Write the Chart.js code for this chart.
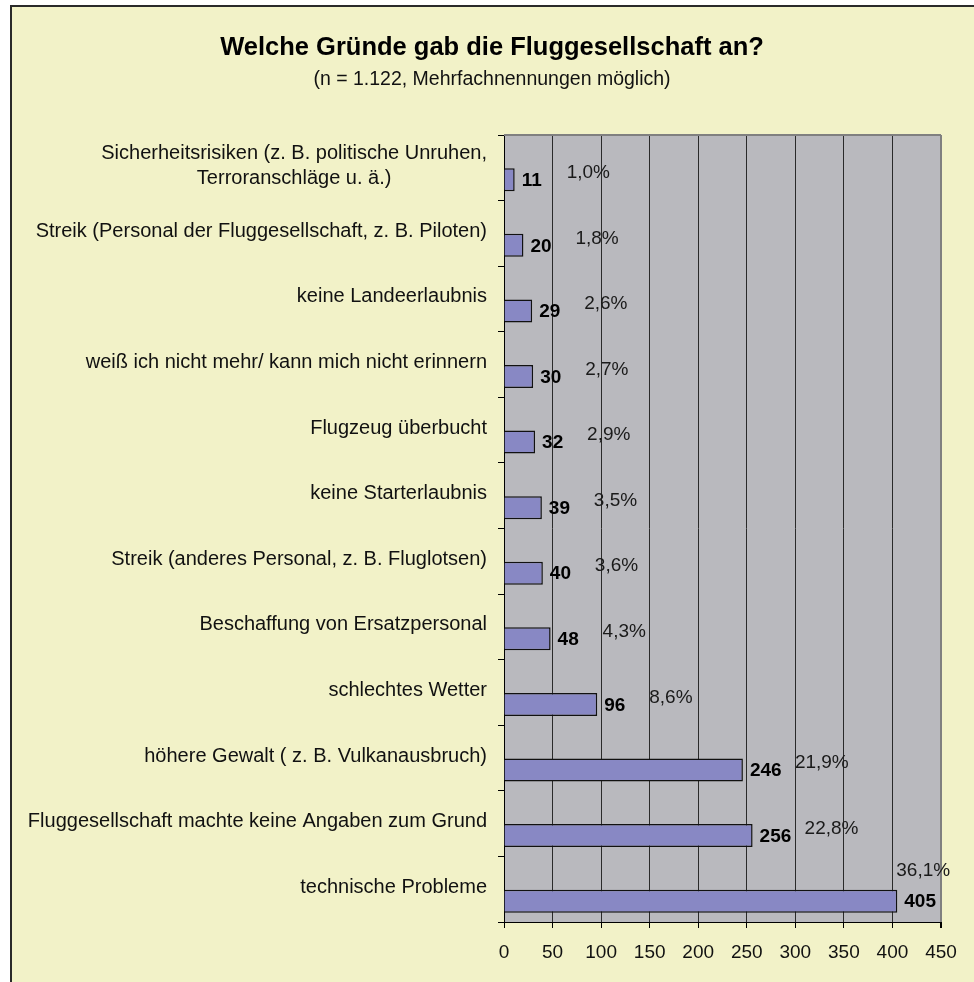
<!DOCTYPE html>
<html>
<head>
<meta charset="utf-8">
<script src="https://cdn.jsdelivr.net/npm/chart.js@4.4.0/dist/chart.umd.min.js"></script>
<style>
  html, body { margin: 0; padding: 0; background: #fff; }
  canvas { display: block; }
</style>
</head>
<body>
<canvas id="chart" width="974" height="982"></canvas>
<script>
'use strict';

const categories = [
    ['Sicherheitsrisiken (z. B. politische Unruhen,', 'Terroranschläge u. ä.)'],
    'Streik (Personal der Fluggesellschaft, z. B. Piloten)',
    'keine Landeerlaubnis',
    'weiß ich nicht mehr/ kann mich nicht erinnern',
    'Flugzeug überbucht',
    'keine Starterlaubnis',
    'Streik (anderes Personal, z. B. Fluglotsen)',
    'Beschaffung von Ersatzpersonal',
    'schlechtes Wetter',
    'höhere Gewalt ( z. B. Vulkanausbruch)',
    'Fluggesellschaft machte keine Angaben zum Grund',
    'technische Probleme'
];
const counts = [11, 20, 29, 30, 32, 39, 40, 48, 96, 246, 256, 405];
const shares = [1.0, 1.8, 2.6, 2.7, 2.9, 3.5, 3.6, 4.3, 8.6, 21.9, 22.8, 36.1];
const xTicks = [0, 50, 100, 150, 200, 250, 300, 350, 400, 450];

const FONT = "'Liberation Sans', Arial, sans-serif";

// Hintergrund, Rahmen und graue Zeichenfläche
const framePlugin = {
    id: 'frame',
    beforeDraw(chart) {
        const c = chart.ctx, a = chart.chartArea;
        c.save();
        c.fillStyle = '#fff';
        c.fillRect(0, 0, chart.width, chart.height);
        c.fillStyle = '#F2F2C8';
        c.fillRect(10, 5, chart.width - 10, chart.height - 5);
        c.strokeStyle = '#2a2a2a';
        c.lineWidth = 2;
        c.beginPath();
        c.moveTo(11, chart.height);
        c.lineTo(11, 6);
        c.lineTo(chart.width, 6);
        c.stroke();
        c.fillStyle = '#B9B9BE';
        c.fillRect(a.left, a.top, a.right - a.left, a.bottom - a.top);
        c.restore();
    },
    beforeDatasetsDraw(chart) {
        const c = chart.ctx, a = chart.chartArea;
        c.save();
        c.strokeStyle = '#808080';
        c.lineWidth = 2;
        c.beginPath();
        c.moveTo(a.left, a.top);
        c.lineTo(a.right, a.top);
        c.stroke();
        c.restore();
    }
};

// Kategorienamen, Anzahl und Prozentwerte
const labelPlugin = {
    id: 'labels',
    afterDraw(chart) {
        const c = chart.ctx, y = chart.scales.y, a = chart.chartArea;
        c.save();
        c.fillStyle = '#111';
        c.textBaseline = 'middle';
        c.font = '20px ' + FONT;
        categories.forEach((cat, i) => {
            const lines = Array.isArray(cat) ? cat : [cat];
            const cy = y.getPixelForTick(i) - 2;
            const w = Math.max(...lines.map(l => c.measureText(l).width));
            const right = a.left - 17;
            c.textAlign = 'center';
            lines.forEach((l, k) => {
                c.fillText(l, right - w / 2, cy + (k - (lines.length - 1) / 2) * 25);
            });
        });

        const meta = chart.getDatasetMeta(1);
        meta.data.forEach((bar, i) => {
            c.textAlign = 'left';
            c.fillStyle = '#000';
            c.font = 'bold 19px ' + FONT;
            c.fillText(String(counts[i]), bar.x + 7, bar.y + 1);
            c.fillStyle = '#1a1a1a';
            c.font = '19px ' + FONT;
            const txt = shares[i].toFixed(1).replace('.', ',') + '%';
            const tw = c.measureText(txt).width;
            let sx = bar.x + 52, sy = bar.y - 7;
            if (sx + tw > chart.width - 10) {
                sx = bar.x - 1;
                sy = bar.y - 30;
            }
            c.fillText(txt, sx, sy);
        });
        c.restore();
    }
};

new Chart(document.getElementById('chart'), {
    type: 'bar',
    data: {
        labels: categories,
        datasets: [{
            label: 'Anteil',
            data: shares,
            backgroundColor: 'rgba(0,0,0,0)',
            borderWidth: 0
        }, {
            label: 'Anzahl',
            data: counts,
            backgroundColor: '#8888C4',
            borderColor: '#111',
            borderWidth: 1.5
        }]
    },
    options: {
        indexAxis: 'y',
        responsive: false,
        animation: false,
        devicePixelRatio: 1,
        categoryPercentage: 0.73,
        barPercentage: 0.96,
        layout: {
            padding: { top: 6, left: 43, right: 33, bottom: 0 }
        },
        scales: {
            x: {
                min: 0,
                max: 450,
                afterBuildTicks: s => { s.ticks = xTicks.map(v => ({ value: v })); },
                afterFit: s => { s.height = 60; },
                grid: {
                    color: ctx => ctx.tick && ctx.tick.value === 450 ? '#808080' : '#2a2a2a',
                    lineWidth: ctx => ctx.tick && ctx.tick.value === 450 ? 2 : 1,
                    tickLength: 6,
                    tickColor: '#000'
                },
                border: { color: '#000', width: 1 },
                ticks: {
                    font: { family: FONT, size: 19 },
                    color: '#111',
                    padding: 13,
                    maxRotation: 0
                }
            },
            y: {
                afterFit: s => { s.width = 461; },
                grid: {
                    drawOnChartArea: false,
                    drawTicks: true,
                    tickLength: 6,
                    color: '#000',
                    offset: true
                },
                border: { color: '#000', width: 1 },
                ticks: { display: false }
            }
        },
        plugins: {
            legend: { display: false },
            tooltip: { enabled: false },
            title: {
                display: true,
                text: 'Welche Gründe gab die Fluggesellschaft an?',
                color: '#000',
                font: { family: FONT, size: 25.5, weight: 'bold' },
                padding: { top: 27, bottom: 0 }
            },
            subtitle: {
                display: true,
                text: '(n = 1.122, Mehrfachnennungen möglich)',
                color: '#111',
                font: { family: FONT, size: 19.5 },
                padding: { top: 4, bottom: 44 }
            }
        }
    },
    plugins: [framePlugin, labelPlugin]
});
</script>
</body>
</html>
